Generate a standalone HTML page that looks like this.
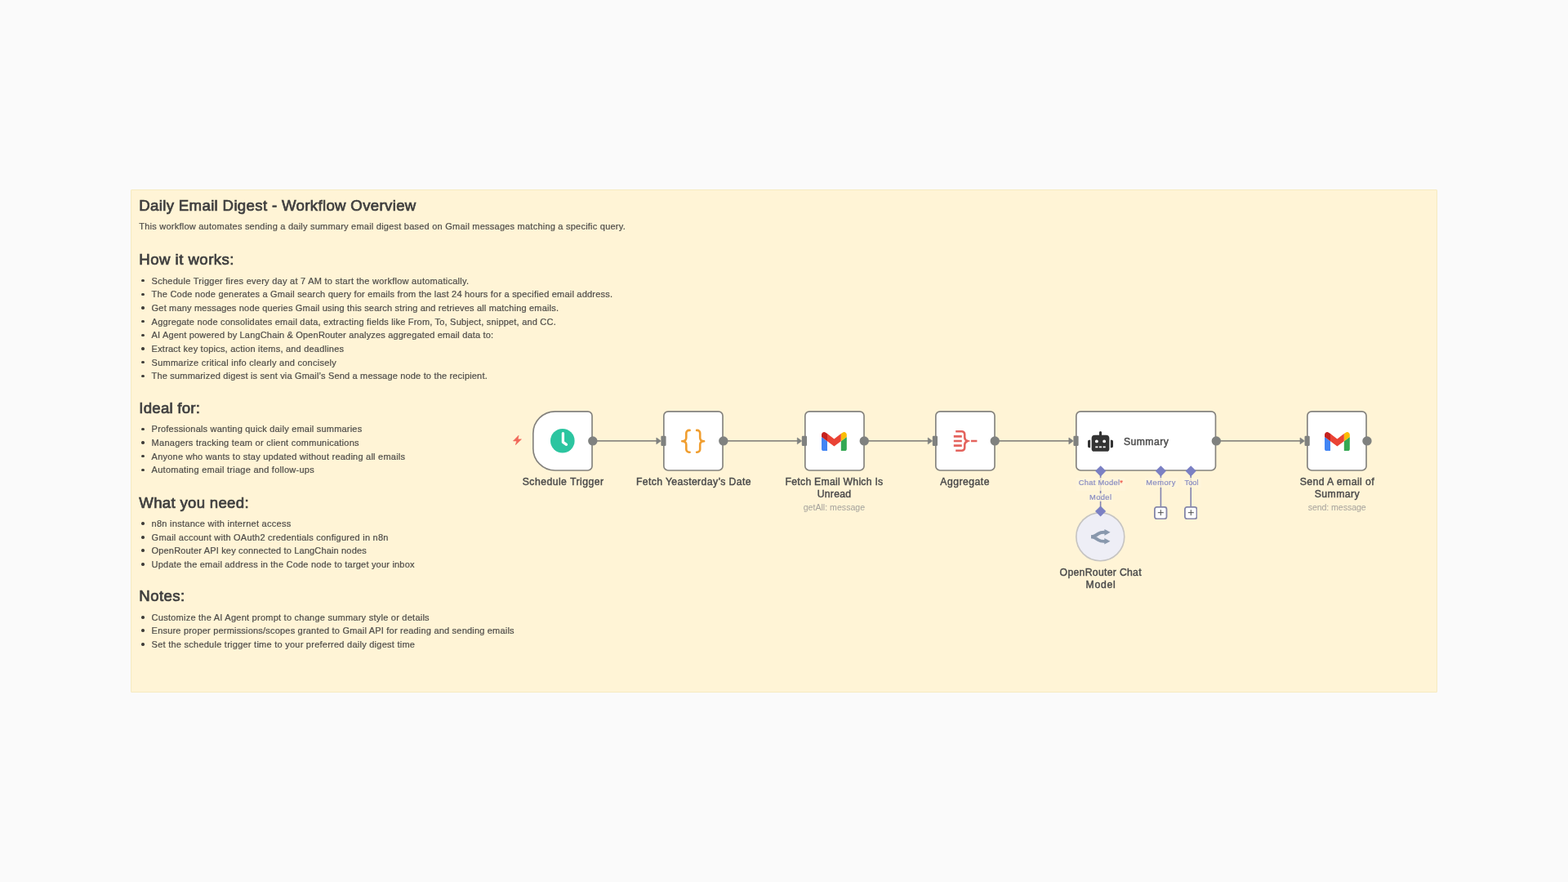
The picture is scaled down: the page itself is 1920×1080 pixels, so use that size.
<!DOCTYPE html>
<html lang="en">
<head>
<meta charset="utf-8">
<meta name="viewport" content="width=1920, initial-scale=1">
<title>Daily Email Digest - Workflow Overview</title>
<style>
html, body { margin: 0; padding: 0; }
body { width: 1920px; height: 1080px; overflow: hidden; background: #fafafa; font-family: "Liberation Sans", Arial, sans-serif; color: #555; }
.canvas { will-change: transform; position: absolute; left: 0; top: 0; width: 1920px; height: 1080px; overflow: hidden; }
.sticky { position: absolute; left: 160px; top: 232px; width: 1600px; height: 616px; box-sizing: border-box; background: #fff4d6; border: 1px solid #f6eac0; border-radius: 1px; }
.sticky .t { margin-left: -161px; margin-top: -233px; }
.t { position: absolute; white-space: nowrap; margin: 0; padding: 0; }
h1.t, h2.t { font-weight: 400; color: #3f3f3f; -webkit-text-stroke: 0.72px #3f3f3f; }
p.t, li.t { font-weight: 400; color: #504e4a; -webkit-text-stroke: 0.22px #504e4a; }
ul { list-style: none; margin: 0; padding: 0; }
li.t::before { content: ""; position: absolute; left: -12.2px; top: 50%; width: 3.4px; height: 3.4px; margin-top: -2px; border-radius: 50%; background: #403e3a; }
.lab { color: #4c4c4c; -webkit-text-stroke: 0.44px #4c4c4c; }
.sub { color: #a5a29c; }
.port { color: #898dc2; -webkit-text-stroke: 0.2px #898dc2; }
.pbg { position: absolute; background: rgba(255,245,219,0.8); }
.node { position: absolute; }
.node svg { position: absolute; overflow: visible; }
.node svg.frame { left: 0; top: 0; }
svg.bolt { position: absolute; }
svg.graph { position: absolute; left: 0; top: 0; width: 1920px; height: 1080px; overflow: visible; pointer-events: none; }
svg.over { position: absolute; left: 0; top: 0; width: 1920px; height: 1080px; overflow: visible; pointer-events: none; }
.plus { position: absolute; width: 16.4px; height: 16.2px; }
.plus svg { display: block; }
.req { color: #ee5a4f; -webkit-text-stroke: 0.2px #ee5a4f; }
</style>
</head>
<body>
<main class="canvas">
<article class="sticky">
<h1 class="t" style="left:170.3px;top:238.21px;font-size:18.6px;line-height:27.9px;letter-spacing:0.347px;">Daily Email Digest - Workflow Overview</h1>
<p class="t" style="left:170.3px;top:268.94px;font-size:11px;line-height:16.5px;letter-spacing:0.229px;">This workflow automates sending a daily summary email digest based on Gmail messages matching a specific query.</p>
<h2 class="t" style="left:170.3px;top:304.21px;font-size:18.6px;line-height:27.9px;letter-spacing:0.471px;">How it works:</h2>
<ul>
<li class="t" style="left:185.6px;top:335.84px;font-size:11px;line-height:16.5px;letter-spacing:0.262px;">Schedule Trigger fires every day at 7 AM to start the workflow automatically.</li>
<li class="t" style="left:185.6px;top:352.48px;font-size:11px;line-height:16.5px;letter-spacing:0.210px;">The Code node generates a Gmail search query for emails from the last 24 hours for a specified email address.</li>
<li class="t" style="left:185.6px;top:369.12px;font-size:11px;line-height:16.5px;letter-spacing:0.181px;">Get many messages node queries Gmail using this search string and retrieves all matching emails.</li>
<li class="t" style="left:185.6px;top:385.76px;font-size:11px;line-height:16.5px;letter-spacing:0.202px;">Aggregate node consolidates email data, extracting fields like From, To, Subject, snippet, and CC.</li>
<li class="t" style="left:185.6px;top:402.4px;font-size:11px;line-height:16.5px;letter-spacing:0.171px;">AI Agent powered by LangChain &amp; OpenRouter analyzes aggregated email data to:</li>
<li class="t" style="left:185.6px;top:419.04px;font-size:11px;line-height:16.5px;letter-spacing:0.213px;">Extract key topics, action items, and deadlines</li>
<li class="t" style="left:185.6px;top:435.68px;font-size:11px;line-height:16.5px;letter-spacing:0.248px;">Summarize critical info clearly and concisely</li>
<li class="t" style="left:185.6px;top:452.32px;font-size:11px;line-height:16.5px;letter-spacing:0.178px;">The summarized digest is sent via Gmail’s Send a message node to the recipient.</li>
</ul>
<h2 class="t" style="left:170.3px;top:486.41px;font-size:18.6px;line-height:27.9px;letter-spacing:0.260px;">Ideal for:</h2>
<ul>
<li class="t" style="left:185.6px;top:517.44px;font-size:11px;line-height:16.5px;letter-spacing:0.208px;">Professionals wanting quick daily email summaries</li>
<li class="t" style="left:185.6px;top:534.08px;font-size:11px;line-height:16.5px;letter-spacing:0.258px;">Managers tracking team or client communications</li>
<li class="t" style="left:185.6px;top:550.72px;font-size:11px;line-height:16.5px;letter-spacing:0.228px;">Anyone who wants to stay updated without reading all emails</li>
<li class="t" style="left:185.6px;top:567.36px;font-size:11px;line-height:16.5px;letter-spacing:0.258px;">Automating email triage and follow-ups</li>
</ul>
<h2 class="t" style="left:170.3px;top:602.21px;font-size:18.6px;line-height:27.9px;letter-spacing:0.312px;">What you need:</h2>
<ul>
<li class="t" style="left:185.6px;top:633.24px;font-size:11px;line-height:16.5px;letter-spacing:0.267px;">n8n instance with internet access</li>
<li class="t" style="left:185.6px;top:649.88px;font-size:11px;line-height:16.5px;letter-spacing:0.237px;">Gmail account with OAuth2 credentials configured in n8n</li>
<li class="t" style="left:185.6px;top:665.94px;font-size:11px;line-height:16.5px;letter-spacing:0.163px;">OpenRouter API key connected to LangChain nodes</li>
<li class="t" style="left:185.6px;top:683.16px;font-size:11px;line-height:16.5px;letter-spacing:0.205px;">Update the email address in the Code node to target your inbox</li>
</ul>
<h2 class="t" style="left:170.3px;top:715.61px;font-size:18.6px;line-height:27.9px;letter-spacing:0.430px;">Notes:</h2>
<ul>
<li class="t" style="left:185.6px;top:748.24px;font-size:11px;line-height:16.5px;letter-spacing:0.244px;">Customize the AI Agent prompt to change summary style or details</li>
<li class="t" style="left:185.6px;top:763.94px;font-size:11px;line-height:16.5px;letter-spacing:0.200px;">Ensure proper permissions/scopes granted to Gmail API for reading and sending emails</li>
<li class="t" style="left:185.6px;top:780.94px;font-size:11px;line-height:16.5px;letter-spacing:0.250px;">Set the schedule trigger time to your preferred daily digest time</li>
</ul>
</article>
<svg class="graph" width="1920" height="1080" viewBox="0 0 1920 1080" aria-hidden="true">
  <g fill="none" stroke="#8c8a82" stroke-width="1.7">
    <path d="M726 539.92H806.15"/>
    <path d="M886 539.92H978.6"/>
    <path d="M1058.45 539.92H1138.6"/>
    <path d="M1218.45 539.92H1311.2"/>
    <path d="M1489.51 539.92H1594.3"/>
  </g>
  <g fill="none" stroke="#8283b0" stroke-width="1.6">
    <path d="M1347.6 577V626"/>
    <path d="M1421.4 577V620"/>
    <path d="M1458.2 577V620"/>
  </g>
</svg>
<section class="node trigger" style="left:652.15px;top:503px;width:73.85px;height:73.85px">
  <svg class="frame" width="73.85" height="73.85" viewBox="0 0 73.85 73.85"><path d="M27.69 0.82H67.69A5.33 5.33 0 0 1 73.02 6.15V67.69A5.33 5.33 0 0 1 67.69 73.02H27.69A26.87 26.87 0 0 1 0.82 46.15V27.69A26.87 26.87 0 0 1 27.69 0.82Z" fill="#fff" stroke="#84827d" stroke-width="1.65"/></svg>
  <svg class="icon" style="left:22.05px;top:22.1px" width="29.6" height="29.6" viewBox="0 0 29.6 29.6"><circle cx="14.8" cy="14.8" r="14.8" fill="#2cc5a0"/><path d="M15.4 5.6V16.4L19.5 19.3" fill="none" stroke="#fff" stroke-width="3.3" stroke-linecap="round" stroke-linejoin="round"/></svg>
</section>
<svg class="bolt" style="left:628.4px;top:533px" width="11" height="12" viewBox="0 0 11 12"><path d="M7 0.3L0.5 6.9H4.7L3.4 11.7L10.4 4.9H6.1L7 0.3Z" fill="#f1685a" stroke="#f1685a" stroke-width="0.7" stroke-linejoin="round"/></svg>
<span class="t lab" style="left:639.7px;top:581.12px;font-size:12.2px;line-height:18.3px;letter-spacing:0.484px;">Schedule Trigger</span>

<section class="node code" style="left:812.15px;top:503px;width:73.85px;height:73.85px">
  <svg class="frame" width="73.85" height="73.85" viewBox="0 0 73.85 73.85"><rect x="0.82" y="0.82" width="72.2" height="72.2" rx="5.33" fill="#fff" stroke="#84827d" stroke-width="1.65"/></svg>
  <svg class="icon" style="left:21.25px;top:20.7px" width="32" height="33" viewBox="0 0 32 33"><g fill="none" stroke="#f09e30" stroke-width="2.6" stroke-linecap="round" stroke-linejoin="round"><path d="M11.6 2.9h-0.9a3.4 3.4 0 0 0-3.4 3.4v5.8q0 4.2-5.1 4.2q5.1 0 5.1 4.2v5.8a3.4 3.4 0 0 0 3.4 3.4h0.9"/><path d="M20.1 2.9h0.7a3.4 3.4 0 0 1 3.4 3.4v5.8q0 4.2 4.9 4.2q-4.9 0-4.9 4.2v5.8a3.4 3.4 0 0 1-3.4 3.4h-0.7"/></g></svg>
</section>
<span class="t lab" style="left:778.9px;top:581.12px;font-size:12.2px;line-height:18.3px;letter-spacing:0.396px;">Fetch Yeasterday’s Date</span>

<section class="node gmail" style="left:984.6px;top:503px;width:73.85px;height:73.85px">
  <svg class="frame" width="73.85" height="73.85" viewBox="0 0 73.85 73.85"><rect x="0.82" y="0.82" width="72.2" height="72.2" rx="5.33" fill="#fff" stroke="#84827d" stroke-width="1.65"/></svg>
  <svg class="icon" style="left:21.5px;top:25.6px" width="30.8" height="23.1" viewBox="52 42 88 66"><path fill="#4285f4" d="M58 108h14V74L52 59v43c0 3.32 2.69 6 6 6"/><path fill="#34a853" d="M120 108h14c3.32 0 6-2.69 6-6V59l-20 15"/><path fill="#fbbc04" d="M120 48v26l20-15v-8c0-7.42-8.47-11.65-14.4-7.2"/><path fill="#ea4335" d="M72 74V48l24 18 24-18v26L96 92"/><path fill="#c5221f" d="M52 51v8l20 15V48l-5.6-4.2c-5.94-4.45-14.4-.22-14.4 7.2"/></svg>
</section>
<span class="t lab" style="left:961.6px;top:581.12px;font-size:12.2px;line-height:18.3px;letter-spacing:0.270px;">Fetch Email Which Is</span>
<span class="t lab" style="left:1000.65px;top:595.92px;font-size:12.2px;line-height:18.3px;letter-spacing:0.303px;">Unread</span>
<span class="t sub" style="left:983.65px;top:613.68px;font-size:10.6px;line-height:15.9px;letter-spacing:0.009px;">getAll: message</span>

<section class="node aggregate" style="left:1144.6px;top:503px;width:73.85px;height:73.85px">
  <svg class="frame" width="73.85" height="73.85" viewBox="0 0 73.85 73.85"><rect x="0.82" y="0.82" width="72.2" height="72.2" rx="5.33" fill="#fff" stroke="#84827d" stroke-width="1.65"/></svg>
  <svg class="icon" style="left:21.8px;top:21.9px" width="32" height="30" viewBox="0 0 32 30"><g fill="none" stroke="#e4635d" stroke-width="2.6"><path d="M4.2 3.2H11.6a3.6 3.6 0 0 1 3.6 3.6v3.6q0 3.2 3.6 4.6q-3.6 1.4-3.6 4.6v3.6a3.6 3.6 0 0 1-3.6 3.6H4.2"/><path d="M1.8 9.4H11.8M1.8 15H11.8M1.8 20.6H11.8M23 15H30.4"/></g></svg>
</section>
<span class="t lab" style="left:1151.25px;top:581.12px;font-size:12.2px;line-height:18.3px;letter-spacing:0.506px;">Aggregate</span>

<section class="node wide" style="left:1317.2px;top:503px;width:172.31px;height:73.85px">
  <svg class="frame" width="172.31" height="73.85" viewBox="0 0 172.31 73.85"><rect x="0.82" y="0.82" width="170.66" height="72.2" rx="5.33" fill="#fff" stroke="#84827d" stroke-width="1.65"/></svg>
  <svg class="icon" style="left:14.9px;top:24.9px" width="31" height="24.8" viewBox="0 0 640 512"><path fill="#333" d="M32,224H64V416H32A31.96166,31.96166,0,0,1,0,384V256A31.96166,31.96166,0,0,1,32,224Zm512-48V448a64.06328,64.06328,0,0,1-64,64H160a64.06328,64.06328,0,0,1-64-64V176a79.974,79.974,0,0,1,80-80H288V32a32,32,0,0,1,64,0V96H464A79.974,79.974,0,0,1,544,176ZM264,256a40,40,0,1,0-40,40A39.997,39.997,0,0,0,264,256Zm-8,128H192v32h64Zm96,0H288v32h64ZM456,256a40,40,0,1,0-40,40A39.997,39.997,0,0,0,456,256Zm-8,128H384v32h64ZM640,256V384a31.96166,31.96166,0,0,1-32,32H576V224h32A31.96166,31.96166,0,0,1,640,256Z"/></svg>
</section>
<span class="t lab" style="left:1375.9px;top:531.52px;font-size:12.2px;line-height:18.3px;letter-spacing:0.474px;">Summary</span>

<section class="node gmail" style="left:1600.3px;top:503px;width:73.85px;height:73.85px">
  <svg class="frame" width="73.85" height="73.85" viewBox="0 0 73.85 73.85"><rect x="0.82" y="0.82" width="72.2" height="72.2" rx="5.33" fill="#fff" stroke="#84827d" stroke-width="1.65"/></svg>
  <svg class="icon" style="left:21.5px;top:25.5px" width="30.8" height="23.1" viewBox="52 42 88 66"><path fill="#4285f4" d="M58 108h14V74L52 59v43c0 3.32 2.69 6 6 6"/><path fill="#34a853" d="M120 108h14c3.32 0 6-2.69 6-6V59l-20 15"/><path fill="#fbbc04" d="M120 48v26l20-15v-8c0-7.42-8.47-11.65-14.4-7.2"/><path fill="#ea4335" d="M72 74V48l24 18 24-18v26L96 92"/><path fill="#c5221f" d="M52 51v8l20 15V48l-5.6-4.2c-5.94-4.45-14.4-.22-14.4 7.2"/></svg>
</section>
<span class="t lab" style="left:1591.7px;top:581.12px;font-size:12.2px;line-height:18.3px;letter-spacing:0.450px;">Send A email of</span>
<span class="t lab" style="left:1609.7px;top:595.92px;font-size:12.2px;line-height:18.3px;letter-spacing:0.474px;">Summary</span>
<span class="t sub" style="left:1601.7px;top:613.68px;font-size:10.6px;line-height:15.9px;letter-spacing:-0.072px;">send: message</span>

<section class="node model" style="left:1317.25px;top:626.95px;width:60.6px;height:60.6px">
  <svg class="frame" width="60.6" height="60.6" viewBox="0 0 60.6 60.6"><rect x="0.82" y="0.82" width="58.95" height="58.95" rx="29.48" fill="#eeeef6" stroke="#c6c4c2" stroke-width="1.65"/></svg>
  <svg class="icon squash" style="left:18.55px;top:20.95px" width="23.6" height="18.6" viewBox="0 0 512 432" preserveAspectRatio="none"><g transform="translate(0,-33)"><path d="M3 248.945C18 248.945 76 236 106 219C136 202 136 202 198 158C276.497 102.293 332 120.945 423 120.945" fill="none" stroke="#8998ad" stroke-width="90"/><path d="M511 121.5L357.25 210.268L357.25 32.7324L511 121.5Z" fill="#8998ad"/><path d="M0 249C15 249 73 261.945 103 278.945C133 295.945 133 295.945 195 339.945C273.497 395.652 329 377 420 377" fill="none" stroke="#8998ad" stroke-width="90"/><path d="M508 376.445L354.25 287.678L354.25 465.213L508 376.445Z" fill="#8998ad"/></g></svg>
</section>
<span class="t lab" style="left:1297.6px;top:691.92px;font-size:12.2px;line-height:18.3px;letter-spacing:0.319px;">OpenRouter Chat</span>
<span class="t lab" style="left:1329.6px;top:706.52px;font-size:12.2px;line-height:18.3px;letter-spacing:0.699px;">Model</span>

<span class="plus" style="left:1413.2px;top:619.8px"><svg width="16.4" height="16.2" viewBox="0 0 16.4 16.2"><rect x="0.9" y="0.9" width="14.6" height="14.4" rx="2.6" fill="#fff" stroke="#8586a8" stroke-width="1.8"/><path d="M4.8 7.7H11.8M8.3 4.2V11.2" fill="none" stroke="#4a4a4a" stroke-width="1"/></svg></span>
<span class="plus" style="left:1450px;top:619.8px"><svg width="16.4" height="16.2" viewBox="0 0 16.4 16.2"><rect x="0.9" y="0.9" width="14.6" height="14.4" rx="2.6" fill="#fff" stroke="#8586a8" stroke-width="1.8"/><path d="M4.8 7.7H11.8M8.3 4.2V11.2" fill="none" stroke="#4a4a4a" stroke-width="1"/></svg></span>

<svg class="over" width="1920" height="1080" viewBox="0 0 1920 1080" aria-hidden="true">
  <g fill="#7f817f">
    <circle cx="725.8" cy="539.92" r="5.7"/>
    <circle cx="885.8" cy="539.92" r="5.7"/>
    <circle cx="1058.25" cy="539.92" r="5.7"/>
    <circle cx="1218.25" cy="539.92" r="5.7"/>
    <circle cx="1489.31" cy="539.92" r="5.7"/>
    <circle cx="1673.95" cy="539.92" r="5.7"/>
    <rect x="809.35" y="533.87" width="6.2" height="12.1" rx="1.2"/><path d="M803.85 536.02L809.25 539.92L803.85 543.82Z" stroke="#7f817f" stroke-width="0.7" stroke-linejoin="round"/>
    <rect x="981.8" y="533.87" width="6.2" height="12.1" rx="1.2"/><path d="M976.3 536.02L981.7 539.92L976.3 543.82Z" stroke="#7f817f" stroke-width="0.7" stroke-linejoin="round"/>
    <rect x="1141.8" y="533.87" width="6.2" height="12.1" rx="1.2"/><path d="M1136.3 536.02L1141.7 539.92L1136.3 543.82Z" stroke="#7f817f" stroke-width="0.7" stroke-linejoin="round"/>
    <rect x="1314.4" y="533.87" width="6.2" height="12.1" rx="1.2"/><path d="M1308.9 536.02L1314.3 539.92L1308.9 543.82Z" stroke="#7f817f" stroke-width="0.7" stroke-linejoin="round"/>
    <rect x="1597.5" y="533.87" width="6.2" height="12.1" rx="1.2"/><path d="M1592 536.02L1597.4 539.92L1592 543.82Z" stroke="#7f817f" stroke-width="0.7" stroke-linejoin="round"/>
  </g>
  <g fill="#7b80c3">
    <path d="M1347.7 570.2l6.6 6.6l-6.6 6.6l-6.6-6.6Z"/>
    <path d="M1421.4 570.2l6.6 6.6l-6.6 6.6l-6.6-6.6Z"/>
    <path d="M1458.2 570.2l6.6 6.6l-6.6 6.6l-6.6-6.6Z"/>
    <path d="M1347.6 619.4l6.6 6.6l-6.6 6.6l-6.6-6.6Z"/>
  </g>
</svg>
<i class="pbg" style="left:1317.5px;top:585px;width:60.5px;height:15.6px"></i>
<i class="pbg" style="left:1332.5px;top:604.4px;width:30.5px;height:9.3px"></i>
<i class="pbg" style="left:1401.5px;top:585px;width:40px;height:11.5px"></i>
<i class="pbg" style="left:1446.5px;top:585px;width:24px;height:11.5px"></i>
<span class="t port" style="left:1320.7px;top:585.3px;font-size:9.3px;line-height:13.95px;letter-spacing:0.306px;">Chat Model<span class="req">*</span></span>
<span class="t port" style="left:1403.3px;top:585.3px;font-size:9.3px;line-height:13.95px;letter-spacing:0.484px;">Memory</span>
<span class="t port" style="left:1450.5px;top:585.3px;font-size:9.3px;line-height:13.95px;letter-spacing:-0.021px;">Tool</span>
<span class="t port" style="left:1334px;top:602.6px;font-size:9.3px;line-height:13.95px;letter-spacing:0.418px;">Model</span>
</main>
</body>
</html>
